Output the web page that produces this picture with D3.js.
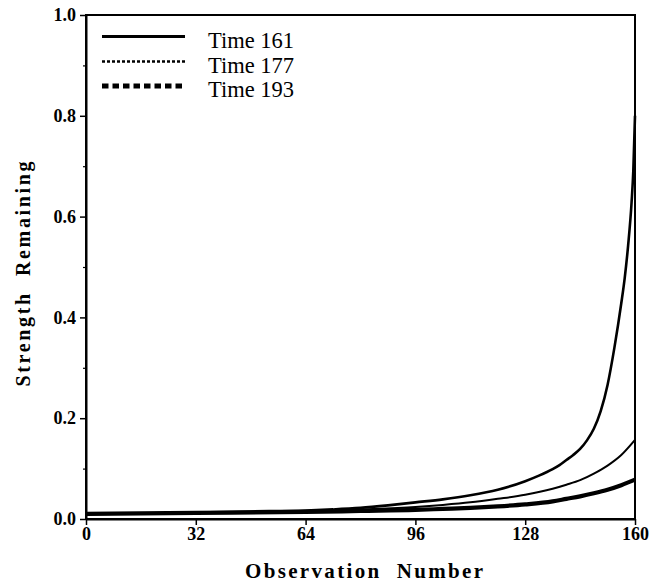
<!DOCTYPE html>
<html>
<head>
<meta charset="utf-8">
<script src="https://cdn.jsdelivr.net/npm/d3@7/dist/d3.min.js"></script>
<style>
  html, body { margin: 0; padding: 0; background: #fff; }
  svg { display: block; }
  text { font-family: "Liberation Serif", "Times New Roman", serif; fill: #000; }
</style>
</head>
<body>
<svg id="chart" width="651" height="583"></svg>
<script>
// ---- data ----
const obs161 = [0, 16, 32, 48, 64, 72, 80, 88, 96, 104, 112, 120, 128, 132, 136, 138, 140, 142, 144, 146, 148, 150, 152, 154, 156, 157, 158, 159, 159.5, 160];
const val161 = [0.010, 0.011, 0.013, 0.015, 0.017, 0.019, 0.022, 0.027, 0.033, 0.039, 0.047, 0.058, 0.075, 0.086, 0.099, 0.107, 0.117, 0.127, 0.139, 0.156, 0.179, 0.214, 0.266, 0.340, 0.428, 0.478, 0.543, 0.628, 0.690, 0.800];

const obs177 = [0, 32, 64, 80, 96, 104, 112, 120, 128, 136, 140, 144, 148, 152, 156, 160];
const val177 = [0.010, 0.012, 0.015, 0.019, 0.024, 0.028, 0.033, 0.040, 0.048, 0.060, 0.068, 0.077, 0.090, 0.106, 0.127, 0.157];

const obs193 = [0, 32, 64, 80, 96, 104, 112, 120, 128, 136, 140, 144, 148, 152, 156, 160];
const val193 = [0.010, 0.012, 0.014, 0.016, 0.018, 0.020, 0.022, 0.025, 0.029, 0.035, 0.040, 0.045, 0.051, 0.058, 0.067, 0.078];

const seriesNames = ["Time 161", "Time 177", "Time 193"];
const xTicks = [0, 32, 64, 96, 128, 160];
const yTicks = [0, 0.2, 0.4, 0.6, 0.8, 1.0];
const yMinorTicks = [0.1, 0.3, 0.5, 0.7, 0.9];
const xTitle = "Observation  Number";
const yTitle = "Strength  Remaining";

// ---- layout ----
const svg = d3.select("#chart");
const pLeft = 86, pRight = 635, pTop = 15, pBottom = 519;
const serif = "'Liberation Serif', 'Times New Roman', serif";

const x = d3.scaleLinear().domain([0, 160]).range([pLeft, pRight]);
const y = d3.scaleLinear().domain([0, 1]).range([pBottom, pTop]);

const series = [
  { name: seriesNames[0], xs: obs161, ys: val161, width: 2.6, legDash: null, legWidth: 3 },
  { name: seriesNames[1], xs: obs177, ys: val177, width: 2.0, legDash: "3,2", legWidth: 2.6 },
  { name: seriesNames[2], xs: obs193, ys: val193, width: 4.2, legDash: "6.5,4", legWidth: 5 }
];

// frame
svg.append("rect")
  .attr("x", pLeft).attr("y", pTop)
  .attr("width", pRight - pLeft).attr("height", pBottom - pTop)
  .attr("fill", "none").attr("stroke", "#000").attr("stroke-width", 2);

// curves
const line = d3.line().x(d => x(d[0])).y(d => y(d[1])).curve(d3.curveMonotoneX);
series.slice().reverse().forEach(s => {
  const pts = s.xs.map((v, i) => [v, s.ys[i]]);
  svg.append("path")
    .attr("d", line(pts))
    .attr("fill", "none")
    .attr("stroke", "#000")
    .attr("stroke-width", s.width)
    .attr("stroke-linejoin", "round");
});

// y axis
const yAxis = svg.append("g").attr("transform", `translate(${pLeft},0)`)
  .call(d3.axisLeft(y).tickValues(yTicks).tickFormat(d3.format(".1f")).tickSize(6).tickSizeOuter(0).tickPadding(4));
yAxis.attr("font-family", null);
yAxis.select(".domain").attr("stroke-width", 2);
yAxis.selectAll(".tick line").attr("stroke-width", 1.5);
yAxis.selectAll("text").style("font-family", serif).style("font-weight", "bold").style("font-size", "18px").attr("fill", "#000");

const yMinor = svg.append("g").attr("transform", `translate(${pLeft},0)`)
  .call(d3.axisLeft(y).tickValues(yMinorTicks).tickFormat("").tickSize(3).tickSizeOuter(0));
yMinor.select(".domain").remove();
yMinor.selectAll(".tick line").attr("stroke-width", 1.2);

// x axis
const xAxis = svg.append("g").attr("transform", `translate(0,${pBottom})`)
  .call(d3.axisBottom(x).tickValues(xTicks).tickFormat(d3.format("d")).tickSize(6).tickSizeOuter(0).tickPadding(2));
xAxis.attr("font-family", null);
xAxis.select(".domain").attr("stroke-width", 2);
xAxis.selectAll(".tick line").attr("stroke-width", 1.5);
xAxis.selectAll("text").style("font-family", serif).style("font-weight", "bold").style("font-size", "18px").attr("fill", "#000");

// axis titles
svg.append("text")
  .attr("x", 364).attr("y", 578)
  .attr("text-anchor", "middle")
  .attr("textLength", 238).attr("lengthAdjust", "spacing")
  .style("font-family", serif)
  .style("font-weight", "bold").style("font-size", "21px")
  .style("white-space", "pre")
  .text(xTitle);

svg.append("text")
  .attr("transform", "translate(30,274) rotate(-90)")
  .attr("text-anchor", "middle")
  .attr("textLength", 225).attr("lengthAdjust", "spacing")
  .style("font-family", serif)
  .style("font-weight", "bold").style("font-size", "20px")
  .style("white-space", "pre")
  .text(yTitle);

// legend
const legY = [36.5, 61.5, 86];
const legTextY = [48, 73, 97];
series.forEach((s, i) => {
  svg.append("line")
    .attr("x1", 102).attr("x2", 185)
    .attr("y1", legY[i]).attr("y2", legY[i])
    .attr("stroke", "#000")
    .attr("stroke-width", s.legWidth)
    .attr("stroke-dasharray", s.legDash);
  svg.append("text")
    .attr("x", 208).attr("y", legTextY[i])
    .style("font-family", serif)
    .style("font-size", "22.5px")
    .text(s.name);
});
</script>
</body>
</html>
